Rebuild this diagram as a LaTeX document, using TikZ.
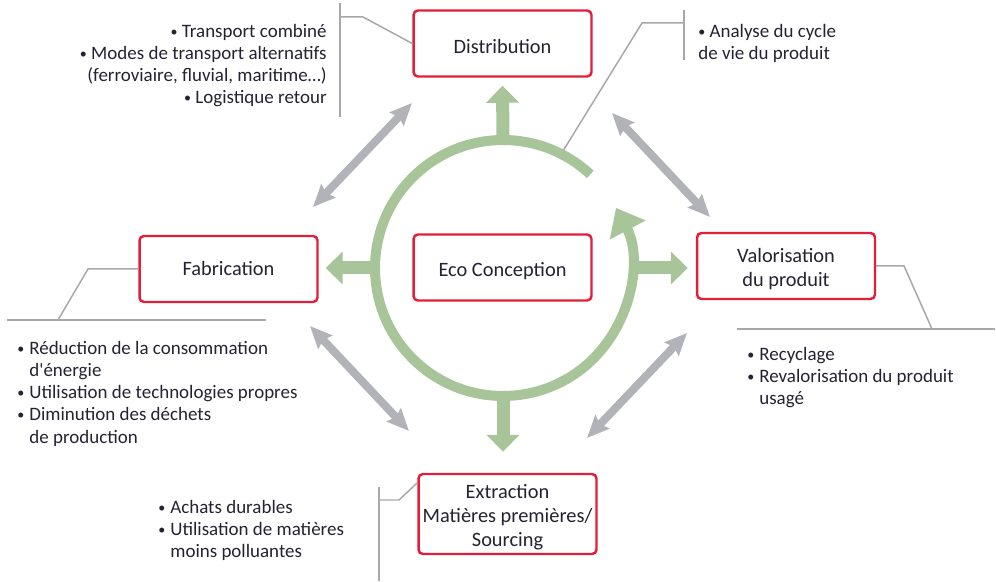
\documentclass[tikz,border=0pt]{standalone}
\usepackage{fontspec}
\setmainfont{Carlito}
\usepackage{xcolor}
\usepackage{tikz}
\usetikzlibrary{arrows.meta,positioning}

\definecolor{rouge}{RGB}{226,30,58}
\definecolor{vert}{RGB}{167,197,152}
\definecolor{grisfleche}{RGB}{178,179,184}
\definecolor{grisligne}{RGB}{168,168,172}
\definecolor{encre}{RGB}{35,35,50}

\newcommand{\rond}{\raisebox{0.6pt}{\fontsize{8}{8}\selectfont•}}
\newcommand{\puce}{\makebox[0.24cm][l]{\rond}}
\newcommand{\retrait}{\hspace*{0.24cm}}
\newcommand{\cale}{\rule{0pt}{1.0em}}

\begin{document}
\begin{tikzpicture}[
			x=0.02cm, y=0.02cm,
			every node/.style={text=encre},
			etape/.style={draw=rouge, line width=1.4pt, rounded corners=2.5pt, fill=white, minimum width=3.56cm, minimum height=1.32cm, align=center, inner sep=2pt, font=\fontsize{11.6}{13.9}\selectfont},
			liste/.style={inner sep=0pt, font=\fontsize{10.8}{12.6}\selectfont},
			rayon/.style={vert, line width=0.26cm, -{Triangle[length=0.34cm, width=0.64cm]}},
			lien/.style={grisfleche, line width=0.16cm, {Stealth[length=0.44cm, width=0.38cm, inset=0.06cm]}-{Stealth[length=0.44cm, width=0.38cm, inset=0.06cm]}},
			renvoi/.style={grisligne, line width=0.85pt}
			]

			\useasboundingbox (0,0) rectangle (996,581);

			\node[etape] (distribution) at (502.5,537.5) {\cale Distribution};
			\node[etape] (eco) at (502.5,313.5) {\cale Eco Conception};
			\node[etape] (fabrication) at (228.5,312) {Fabrication};
			\node[etape] (valorisation) at (786,315) {\cale Valorisation\\du produit};
			\node[etape, minimum height=1.6cm] (extraction) at (507.5,67) {\cale Extraction\\Matières premières/\\Sourcing};

			\node[circle, minimum size=5.12cm, inner sep=0pt, outer sep=0pt] (anneau) at (503,313) {};

			% traits de renvoi vers les listes
			\coordinate (barreD) at (340,564);
			\coordinate (barreA) at (684,558);
			\coordinate (socleV) at (932,252);
			\coordinate (socleF) at (58,261);
			\coordinate (barreE) at (379,81);

			\draw[renvoi] (340,578) -- (340,464);
			\draw[renvoi] (distribution.west) -- (363,564) -- (barreD);
			\draw[renvoi] (684,571) -- (684,521);
			\draw[renvoi] (anneau.63) -- (642,558) -- (barreA);
			\draw[renvoi] (737,252) -- (995,252);
			\draw[renvoi] (valorisation.east) -- (904,315) -- (socleV);
			\draw[renvoi] (7,261) -- (266,261);
			\draw[renvoi] (fabrication.west) -- (88,312) -- (socleF);
			\draw[renvoi] (379,94) -- (379,0);
			\draw[renvoi] ([yshift=-0.2cm]extraction.north west) -- (399,81) -- (barreE);

			% cycle et fleches vertes
			\draw[rayon] (anneau.north) -- ([yshift=-0.16cm]distribution.south);
			\draw[rayon] (anneau.west) -- ([xshift=0.14cm]anneau.west -| fabrication.east);
			\draw[rayon] (anneau.east) -- ([xshift=-0.16cm]anneau.east -| valorisation.west);
			\draw[rayon] (anneau.south) -- ([yshift=0.42cm]anneau.south |- extraction.north);
			\draw[vert, line width=0.2cm, -{Triangle[length=0.5cm, width=0.78cm]}] (anneau.47) arc[start angle=47, end angle=388, radius=2.56cm];

			% liens gris entre les etapes
			\coordinate (fd1) at (313,374); \coordinate (fd2) at (412,478);
			\coordinate (dv1) at (612,468); \coordinate (dv2) at (710,364);
			\coordinate (fe1) at (310,255); \coordinate (fe2) at (409,150);
			\coordinate (ve1) at (587,143); \coordinate (ve2) at (687,248);
			\foreach \de/\vers in {fd1/fd2, dv1/dv2, fe1/fe2, ve1/ve2}
				\draw[lien] (\de) -- (\vers);

			\node[liste, align=right, anchor=north east] (listeDistribution) at (327,557) {\rond\ Transport combiné\\\rond\ Modes de transport alternatifs\\(ferroviaire, fluvial, maritime…)\\\rond\ Logistique retour};
			\node[liste, align=left, anchor=north west] (listeAnalyse) at (698,557) {\rond\ Analyse du cycle\\de vie du produit};
			\node[liste, align=left, anchor=north west] (listeFabrication) at (17,240) {\puce Réduction de la consommation\\\retrait d\textquotesingle énergie\\\puce Utilisation de technologies propres\\\puce Diminution des déchets\\\retrait de production};
			\node[liste, align=left, anchor=north west] (listeValorisation) at (747,234) {\puce Recyclage\\\puce Revalorisation du produit\\\retrait usagé};
			\node[liste, align=left, anchor=north west] (listeExtraction) at (158,81) {\puce Achats durables\\\puce Utilisation de matières\\\retrait moins polluantes};

		\end{tikzpicture}
\end{document}
